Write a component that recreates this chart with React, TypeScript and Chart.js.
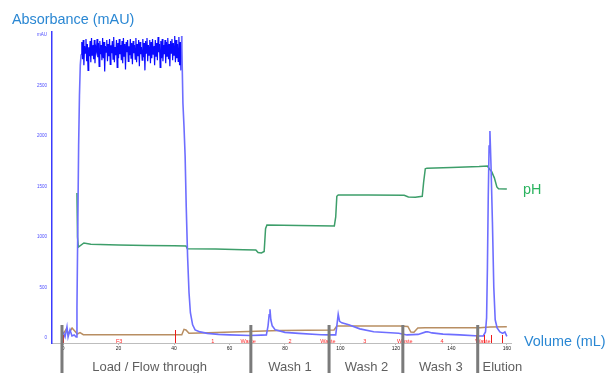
import { useEffect, useRef } from 'react';
import { Chart, registerables } from 'chart.js';

Chart.register(...registerables);

// ---------- data ----------
const xTickValues = [0, 20, 40, 60, 80, 100, 120, 140, 160];
const yTickValues = [0, 500, 1000, 1500, 2000, 2500, 3000];

// UV absorbance (mAU) before the load plateau
const uvStartVol = [0, 0.7, 1.4, 1.8, 2.5, 3.2, 4.0, 4.7, 5.0, 5.3, 5.6, 5.9, 6.2];
const uvStartAbs = [60, 10, 110, 10, 80, 20, 30, 10, 300, 1100, 1900, 2400, 2700];

// UV plateau during load, sampled every 0.25 mL from 6.5 mL
const plateauStartVol = 6.5;
const plateauStepVol = 0.25;
const plateauAbs = [
  2810, 2930, 2760, 2950, 2700, 2890, 2820, 2960, 2740, 2910,
  2650, 2880, 2790, 2940, 2730, 2970, 2800, 2900, 2760, 2950,
  2720, 2880, 2840, 2960, 2780, 2920, 2690, 2940, 2810, 2900,
  2750, 2970, 2770, 2930, 2640, 2890, 2830, 2950, 2740, 2910,
  2790, 2960, 2710, 2900, 2820, 2940, 2760, 2980, 2730, 2880,
  2800, 2950, 2680, 2920, 2770, 2960, 2810, 2900, 2750, 2940,
  2720, 2970, 2790, 2910, 2660, 2930, 2830, 2950, 2740, 2890,
  2800, 2960, 2770, 2920, 2710, 2940, 2820, 2900, 2760, 2970,
  2730, 2910, 2790, 2950, 2690, 2930, 2810, 2880, 2750, 2960,
  2780, 2920, 2650, 2940, 2820, 2970, 2740, 2900, 2800, 2950,
  2720, 2930, 2770, 2960, 2810, 2890, 2700, 2950, 2790, 2920,
  2750, 2980, 2830, 2910, 2680, 2940, 2770, 2960, 2740, 2900,
  2810, 2950, 2720, 2930, 2790, 2970, 2760, 2910, 2690, 2940,
  2820, 2960, 2750, 2920, 2800, 2990, 2730, 2950, 2770, 2910,
  2740, 2980, 2700, 2930, 2650, 2990,
];

// UV after the plateau: flow-through decline, washes, elution
const uvTailVol = [
  43.2, 43.6, 44.0, 44.4, 44.9, 45.4, 45.9, 46.7, 47.6, 49.4, 52, 56, 60, 67.5,
  71.5, 73.3, 73.9, 74.3, 74.6, 74.9, 75.4, 76.5, 80, 85, 93, 96, 98.3,
  98.7, 99.2, 99.7, 100.5, 103, 107, 112, 121, 124, 128, 130.8, 131.5, 133, 137, 143,
  150, 151.5, 152.3, 152.7, 153.0, 153.3, 153.6, 153.9, 154.3, 154.8, 155.3, 155.8,
  156.5, 157.5, 158.5, 159.3, 160,
];
const uvTailAbs = [
  2330, 2090, 1800, 1300, 800, 450, 250, 130, 80, 60, 45, 35, 30, 25,
  28, 30, 120, 230, 284, 180, 120, 80, 55, 45, 32, 30, 30,
  120, 235, 165, 150, 130, 90, 62, 46, 30, 35, 60, 62, 50, 38, 30,
  20, 20, 60, 200, 700, 1400, 1900, 2050, 1700, 1150, 500, 180,
  100, 60, 45, 60, 15,
];

// pH
const phVol = [
  5.0, 5.2, 5.5, 7.5, 10, 20, 30, 40, 44.3, 44.8, 55, 65, 69.5, 70.3, 71.5, 72.5,
  73.0, 73.5, 85, 97.8, 98.3, 98.7, 99.2, 110, 123, 124.5, 127, 129.5, 130, 130.6,
  131.2, 140, 150, 153, 153.8, 154.5, 155.5, 156.4, 157, 160,
];
const phValue = [
  6.70, 4.67, 4.20, 4.39, 4.33, 4.30, 4.28, 4.26, 4.25, 4.12, 4.11, 4.08, 4.07, 3.95, 3.93, 4.0,
  5.05, 5.22, 5.20, 5.18, 5.6, 6.55, 6.61, 6.61, 6.60, 6.52, 6.51, 6.55, 7.2, 7.82,
  7.85, 7.88, 7.92, 7.95, 7.80, 7.70, 7.40, 6.98, 6.90, 6.88,
];

// Conductivity (mS/cm)
const condVol = [
  0, 0.36, 1.08, 2.05, 3.24, 5.15, 6.1, 7.3, 42.8, 43.6, 44.3, 45.4, 49.4, 63.8, 78.2,
  97.7, 98.7, 121.4, 124.3, 125.4, 126.5, 127.9, 130.5, 150.3, 153.9, 160,
];
const condValue = [
  10, 10.5, 17.2, 9.3, 19.8, 7.9, 10.5, 6.5, 6.5, 17.2, 16, 9.3, 9.9, 12.5, 14.9,
  15.8, 23.8, 23.8, 22.8, 11.9, 11.3, 19.8, 20.4, 20.4, 21.8, 22.4,
];

// Fraction marks
const fractionLabels = ['F3', '1', 'Waste', '2', 'Waste', '3', 'Waste', '4', 'Waste'];
const fractionVols = [20.2, 54, 66.7, 81.8, 95.5, 108.8, 123.2, 136.6, 151.4];
const fractionTickVols = [0, 40.4, 148.8, 151.7, 154.2, 158.2];

// Sections
const sectionBoundVols = [-0.4, 67.7, 95.9, 122.5, 149.5];
const sectionNames = ['Load / Flow through', 'Wash 1', 'Wash 2', 'Wash 3', 'Elution'];
const sectionCenterVols = [31.2, 81.8, 109.4, 136.2, 158.4];

// ---------- component ----------
const FONT = '"Liberation Sans", Arial, sans-serif';

const overlayPlugin = {
  id: 'overlay',
  afterDraw(chart: any) {
    const ctx = chart.ctx;
    const xs = chart.scales.x;
    const bottom = chart.chartArea.bottom;
    ctx.save();

    // red fraction ticks
    ctx.strokeStyle = '#ee1a1a';
    ctx.lineWidth = 1;
    fractionTickVols.forEach((v, i) => {
      const px = Math.round(xs.getPixelForValue(v)) + 0.5;
      const len = i === 1 ? 13 : 8;
      ctx.beginPath();
      ctx.moveTo(px, bottom);
      ctx.lineTo(px, bottom - len);
      ctx.stroke();
    });

    // red fraction labels
    ctx.fillStyle = '#ff2a2a';
    ctx.font = `5.5px ${FONT}`;
    ctx.textAlign = 'center';
    ctx.textBaseline = 'middle';
    fractionVols.forEach((v, i) => {
      ctx.fillText(fractionLabels[i], xs.getPixelForValue(v), bottom - 1.5);
    });

    // section separators
    ctx.fillStyle = '#7b7b7b';
    sectionBoundVols.forEach((v) => {
      const px = xs.getPixelForValue(v);
      ctx.fillRect(px - 1.5, 325, 3, 48);
    });

    // section names
    ctx.fillStyle = '#5f5f5f';
    ctx.font = `13px ${FONT}`;
    ctx.textAlign = 'center';
    ctx.textBaseline = 'alphabetic';
    sectionNames.forEach((name, i) => {
      ctx.fillText(name, xs.getPixelForValue(sectionCenterVols[i]), 371.3);
    });

    // titles
    ctx.textAlign = 'left';
    ctx.font = `14.4px ${FONT}`;
    ctx.fillStyle = '#2a87d3';
    ctx.fillText('Absorbance (mAU)', 12, 23.5);
    ctx.fillText('Volume (mL)', 524, 345.5);
    ctx.fillStyle = '#2bb35f';
    ctx.fillText('pH', 523, 193.5);

    ctx.restore();
  },
};

export default function App() {
  const canvasRef = useRef<HTMLCanvasElement | null>(null);

  useEffect(() => {
    if (!canvasRef.current) return;

    const uvPoints: { x: number; y: number }[] = [];
    uvStartVol.forEach((v, i) => uvPoints.push({ x: v, y: uvStartAbs[i] }));
    plateauAbs.forEach((a, i) => uvPoints.push({ x: plateauStartVol + i * plateauStepVol, y: a }));
    uvTailVol.forEach((v, i) => uvPoints.push({ x: v, y: uvTailAbs[i] }));

    const phPoints = phVol.map((v, i) => ({ x: v, y: phValue[i] }));
    const condPoints = condVol.map((v, i) => ({ x: v, y: condValue[i] }));

    const plateauEnd = plateauStartVol + (plateauAbs.length - 1) * plateauStepVol;
    const inPlateau = (c: any) => c.p0.parsed.x >= plateauStartVol - 0.01 && c.p1.parsed.x <= plateauEnd + 0.01;

    const chart = new Chart(canvasRef.current, {
      type: 'line',
      data: {
        datasets: [
          {
            label: 'UV',
            data: uvPoints,
            yAxisID: 'y',
            borderColor: '#6e6eff',
            borderWidth: 1.6,
            segment: {
              borderColor: (c: any) => (inPlateau(c) ? '#0a0aff' : '#6e6eff'),
              borderWidth: (c: any) => (inPlateau(c) ? 1.2 : 1.6),
            },
            pointRadius: 0,
            tension: 0,
          },
          {
            label: 'pH',
            data: phPoints,
            yAxisID: 'yPH',
            borderColor: '#3d9e6a',
            borderWidth: 1.5,
            pointRadius: 0,
            tension: 0,
          },
          {
            label: 'Conductivity',
            data: condPoints,
            yAxisID: 'yCond',
            borderColor: '#b88e62',
            borderWidth: 1.5,
            pointRadius: 0,
            tension: 0,
          },
        ],
      },
      options: {
        animation: false,
        responsive: false,
        maintainAspectRatio: false,
        layout: { padding: { left: 0, right: 97, top: 32, bottom: 0 } },
        plugins: { legend: { display: false }, tooltip: { enabled: false } },
        scales: {
          x: {
            type: 'linear',
            min: -4,
            max: 161.5,
            afterBuildTicks: (s: any) => {
              s.ticks = xTickValues.map((v) => ({ value: v }));
            },
            afterFit: (s: any) => {
              s.height = 30;
            },
            ticks: {
              font: { size: 5, family: FONT },
              color: '#222',
              padding: 1,
              maxRotation: 0,
              autoSkip: false,
              callback: (v: any) => String(v),
            },
            grid: { display: true, drawOnChartArea: false, drawTicks: true, tickLength: 2, color: '#bbbbbb' },
            border: { display: true, color: '#bdbdbd', width: 1 },
          },
          y: {
            min: -50,
            max: 3030,
            afterBuildTicks: (s: any) => {
              s.ticks = yTickValues.map((v) => ({ value: v }));
            },
            afterFit: (s: any) => {
              s.width = 52;
            },
            ticks: {
              font: { size: 4.5, family: FONT },
              color: '#4d4dff',
              padding: 5,
              callback: (v: any) => (v === 3000 ? 'mAU' : String(v)),
            },
            grid: { display: false, drawTicks: false },
            border: { display: true, color: '#3b3bff', width: 1.5 },
          },
          yPH: { display: false, min: -0.23, max: 14.14 },
          yCond: { display: false, min: -9.9, max: 606 },
        },
      },
      plugins: [overlayPlugin],
    } as any);

    return () => chart.destroy();
  }, []);

  return (
    <div style={{ position: 'absolute', left: 0, top: 0, width: 608, height: 373, background: '#fff' }}>
      <canvas ref={canvasRef} width={608} height={373} />
    </div>
  );
}
